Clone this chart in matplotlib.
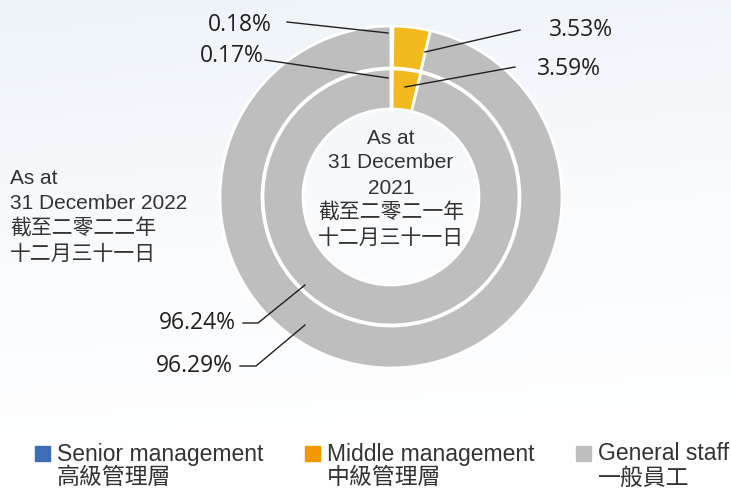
import numpy as np
import matplotlib.pyplot as plt
from matplotlib.patches import Rectangle

plt.rcParams['font.family'] = ['Liberation Sans', 'Noto Sans CJK TC', 'DejaVu Sans']
pct_font = ['Open Sans', 'DejaVu Sans']

categories = ['Senior management', 'Middle management', 'General staff']
categories_zh = ['高級管理層', '中級管理層', '一般員工']
values_2022 = [0.18, 3.53, 96.29]
values_2021 = [0.17, 3.59, 96.24]
ring_colors = ['#3F6DB5', '#F2BA1E', '#BEBEBE']
legend_colors = ['#3F6DB5', '#F39800', '#BEBEBE']
caption_2021 = ['As at', '31 December', '2021', '截至二零二一年', '十二月三十一日']
caption_2022 = ['As at', '31 December 2022', '截至二零二二年', '十二月三十一日']

W, H = 731, 492
fig = plt.figure(figsize=(W / 100, H / 100), dpi=100)
ax = fig.add_axes([0, 0, 1, 1])

# soft pale-blue background
gx, gy = np.meshgrid(np.linspace(0, 1, 200), np.linspace(0, 1, 140))
bg = 0.35 * (1 - gx) * (1 - gy) + 0.45 * (1 - gy) ** 2 + 0.15 * gx * (1 - gy)
bg = np.clip(bg, 0, 1)
top = np.array([1.0, 1.0, 1.0])
low = np.array([0.91, 0.94, 0.97])
img = top[None, None, :] * (1 - bg[..., None]) + low[None, None, :] * bg[..., None]
ax.imshow(img, extent=[0, W, 0, H], origin='upper', zorder=0)

cx, cy = 391, H - 197
r_out, r_mid, r_in = 171, 129, 88
wp = dict(edgecolor='white', linewidth=2)
ax.pie(values_2022, colors=ring_colors, startangle=90, counterclock=False,
       radius=r_out, center=(cx, cy), wedgeprops=dict(width=r_out - r_mid, **wp),
       frame=True)
ax.pie(values_2021, colors=ring_colors, startangle=90, counterclock=False,
       radius=r_mid - 1, center=(cx, cy), wedgeprops=dict(width=r_mid - 1 - r_in, **wp),
       frame=True)
ax.set_xlim(0, W)
ax.set_ylim(0, H)
ax.set_aspect('equal')
ax.axis('off')

def yy(y):
    return H - y

fs = 16.5
lc = '#231F20'
tc = '#333333'
# outer ring labels (2022)
ax.plot([287, 388], [yy(22), yy(33)], color=lc, lw=1)
ax.text(272, yy(25), f'{values_2022[0]:.2f}%', ha='right', va='center', fontsize=fs, color=lc, family=pct_font)
ax.plot([520, 425], [yy(30), yy(52)], color=lc, lw=1)
ax.text(549, yy(30), f'{values_2022[1]:.2f}%', ha='left', va='center', fontsize=fs, color=lc, family=pct_font)
ax.plot([240, 256, 305], [yy(366), yy(366), yy(325)], color=lc, lw=1)
ax.text(233, yy(366), f'{values_2022[2]:.2f}%', ha='right', va='center', fontsize=fs, color=lc, family=pct_font)

# inner ring labels (2021)
ax.plot([265, 388], [yy(60), yy(78)], color=lc, lw=1)
ax.text(264, yy(56), f'{values_2021[0]:.2f}%', ha='right', va='center', fontsize=fs, color=lc, family=pct_font)
ax.plot([515, 405], [yy(67), yy(87)], color=lc, lw=1)
ax.text(537, yy(69), f'{values_2021[1]:.2f}%', ha='left', va='center', fontsize=fs, color=lc, family=pct_font)
ax.plot([243, 258, 305], [yy(323), yy(323), yy(285)], color=lc, lw=1)
ax.text(236, yy(323), f'{values_2021[2]:.2f}%', ha='right', va='center', fontsize=fs, color=lc, family=pct_font)

# year captions
for i, line in enumerate(caption_2021):
    ax.text(cx, yy(138 + 25 * i), line, ha='center', va='center', fontsize=15, color=tc)
for i, line in enumerate(caption_2022):
    ax.text(10, yy(178 + 25.5 * i), line, ha='left', va='center', fontsize=15, color=tc)

# legend
legend_x = [35, 305, 576]
for x0, c, en, zh in zip(legend_x, legend_colors, categories, categories_zh):
    ax.add_patch(Rectangle((x0, yy(461)), 15, 15, color=c, zorder=3))
    ax.text(x0 + 22, yy(454), en, ha='left', va='center', fontsize=16.5, color=tc)
    ax.text(x0 + 22, yy(478), zh, ha='left', va='center', fontsize=16.5, color=tc)

fig.savefig('out.png', dpi=100)
